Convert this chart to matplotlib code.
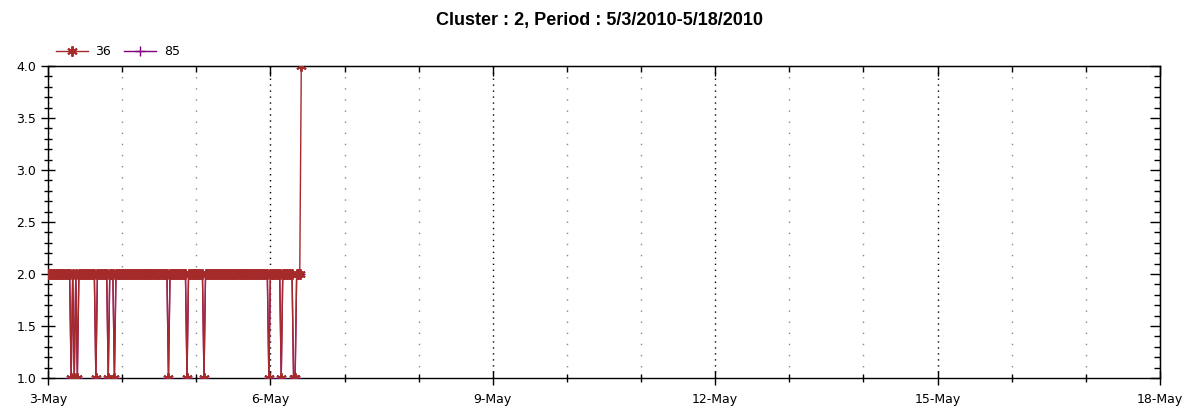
import matplotlib
matplotlib.use("Agg")
import matplotlib.pyplot as plt
import matplotlib.dates as mdates
from matplotlib.ticker import MultipleLocator, FormatStrFormatter, NullFormatter
import pandas as pd

# ---- data ----
title = "Cluster : 2, Period : 5/3/2010-5/18/2010"
series_names = ["36", "85"]
start_time = "2010-05-03 00:00"
sample_step = "30min"
x_start = "2010-05-03"
x_end = "2010-05-18"

# series 36 values (30-minute samples)
values_36 = [
    2, 2, 2, 2, 2, 2, 2, 2, 2, 2, 2, 2, 2, 2, 2, 1, 2, 1, 2, 1,
    2, 2, 2, 2, 2, 2, 2, 2, 2, 2, 2, 1, 2, 2, 2, 2, 2, 2, 2, 1,
    2, 2, 2, 1, 2, 2, 2, 2, 2, 2, 2, 2, 2, 2, 2, 2, 2, 2, 2, 2,
    2, 2, 2, 2, 2, 2, 2, 2, 2, 2, 2, 2, 2, 2, 2, 2, 2, 2, 1, 2,
    2, 2, 2, 2, 2, 2, 2, 2, 2, 2, 1, 2, 2, 2, 2, 2, 2, 2, 2, 2,
    2, 1, 2, 2, 2, 2, 2, 2, 2, 2, 2, 2, 2, 2, 2, 2, 2, 2, 2, 2,
    2, 2, 2, 2, 2, 2, 2, 2, 2, 2, 2, 2, 2, 2, 2, 2, 2, 2, 2, 2,
    2, 2, 2, 1, 2, 2, 2, 2, 2, 2, 2, 1, 2, 2, 2, 2, 2, 2, 2, 1,
    1, 2, 2, 2, 4,
]
# series 85 values (30-minute samples, mostly hidden behind series 36)
values_85 = [
    2, 2, 2, 2, 2, 2, 2, 2, 2, 2, 2, 2, 2, 2, 2, 1, 2, 1, 2, 1,
    2, 2, 2, 2, 2, 2, 2, 2, 2, 2, 2, 1, 2, 2, 2, 2, 2, 2, 2, 1,
    2, 2, 2, 1, 2, 2, 2, 2, 2, 2, 2, 2, 2, 2, 2, 2, 2, 2, 2, 2,
    2, 2, 2, 2, 2, 2, 2, 2, 2, 2, 2, 2, 2, 2, 2, 2, 2, 2, 1, 2,
    2, 2, 2, 2, 2, 2, 2, 2, 2, 2, 1, 2, 2, 2, 2, 2, 2, 2, 2, 2,
    2, 1, 2, 2, 2, 2, 2, 2, 2, 2, 2, 2, 2, 2, 2, 2, 2, 2, 2, 2,
    2, 2, 2, 2, 2, 2, 2, 2, 2, 2, 2, 2, 2, 2, 2, 2, 2, 2, 2, 2,
    2, 2, 2, 1, 2, 2, 2, 2, 2, 2, 2, 1, 2, 2, 2, 2, 2, 2, 2, 1,
    1, 2, 2, 2,
]
y_min, y_max = 1.0, 4.0

times_36 = pd.date_range(start_time, periods=len(values_36), freq=sample_step)
times_85 = pd.date_range(start_time, periods=len(values_85), freq=sample_step)

# ---- figure ----
plt.rcParams['font.family'] = ['DejaVu Sans']
fig = plt.figure(figsize=(12, 4.2), dpi=100)
ax = fig.add_axes([0.04, 0.1, 0.9267, 0.7429])

c36 = "#A52A2A"
c85 = "#800080"
h85, = ax.plot(times_85, values_85, color=c85, lw=1.0, marker="+", ms=7, mew=1.0,
               label=series_names[1], zorder=3)
h36, = ax.plot(times_36, values_36, color=c36, lw=1.0, marker=(6, 2, 0), ms=7.5, mew=1.4,
               label=series_names[0], zorder=4)

ax.set_xlim(pd.Timestamp(x_start), pd.Timestamp(x_end))
ax.set_ylim(y_min, y_max)

ax.xaxis.set_major_locator(mdates.DayLocator(interval=3))
ax.xaxis.set_major_formatter(mdates.DateFormatter("%-d-%b"))
ax.xaxis.set_minor_locator(mdates.DayLocator())
ax.yaxis.set_major_locator(MultipleLocator(0.5))
ax.yaxis.set_minor_locator(MultipleLocator(0.1))
ax.yaxis.set_major_formatter(FormatStrFormatter("%.1f"))

ax.grid(True, which="major", axis="x", color="black", linestyle=(0, (1, 3.3)), lw=1.0)
ax.grid(True, which="minor", axis="x", color="#888888", linestyle=(0, (1, 7)), lw=1.0)

ax.tick_params(axis="both", which="both", labelsize=9, colors="black")
ax.tick_params(axis="x", which="major", direction="inout", length=10, width=1, pad=6)
ax.tick_params(axis="x", which="minor", direction="inout", length=6, width=1)
ax.tick_params(axis="y", which="major", direction="inout", length=10, width=1)
ax.tick_params(axis="y", which="minor", direction="inout", length=6, width=1)
for s in ax.spines.values():
    s.set_color("black")
    s.set_linewidth(1.0)

# top and right ticks pointing inward
top = ax.secondary_xaxis("top")
top.xaxis.set_major_locator(mdates.DayLocator(interval=3))
top.xaxis.set_minor_locator(mdates.DayLocator())
top.xaxis.set_major_formatter(NullFormatter())
top.tick_params(which="major", direction="in", length=7, width=1)
top.tick_params(which="minor", direction="in", length=4, width=1)
right = ax.secondary_yaxis("right")
right.yaxis.set_major_locator(MultipleLocator(0.5))
right.yaxis.set_minor_locator(MultipleLocator(0.1))
right.yaxis.set_major_formatter(NullFormatter())
right.tick_params(which="major", direction="in", length=7, width=1)
right.tick_params(which="minor", direction="in", length=4, width=1)

ax.legend(handles=[h36, h85], loc="lower left", bbox_to_anchor=(0.0, 1.0), ncol=2,
          frameon=False, fontsize=9, handlelength=2.6, columnspacing=1.0,
          borderaxespad=0.2, handletextpad=0.6)

fig.text(0.5, 0.95, title, ha="center", va="center", fontsize=13,
         fontweight="bold", family=["Liberation Sans", "DejaVu Sans"])

fig.savefig("out.png", dpi=100)
